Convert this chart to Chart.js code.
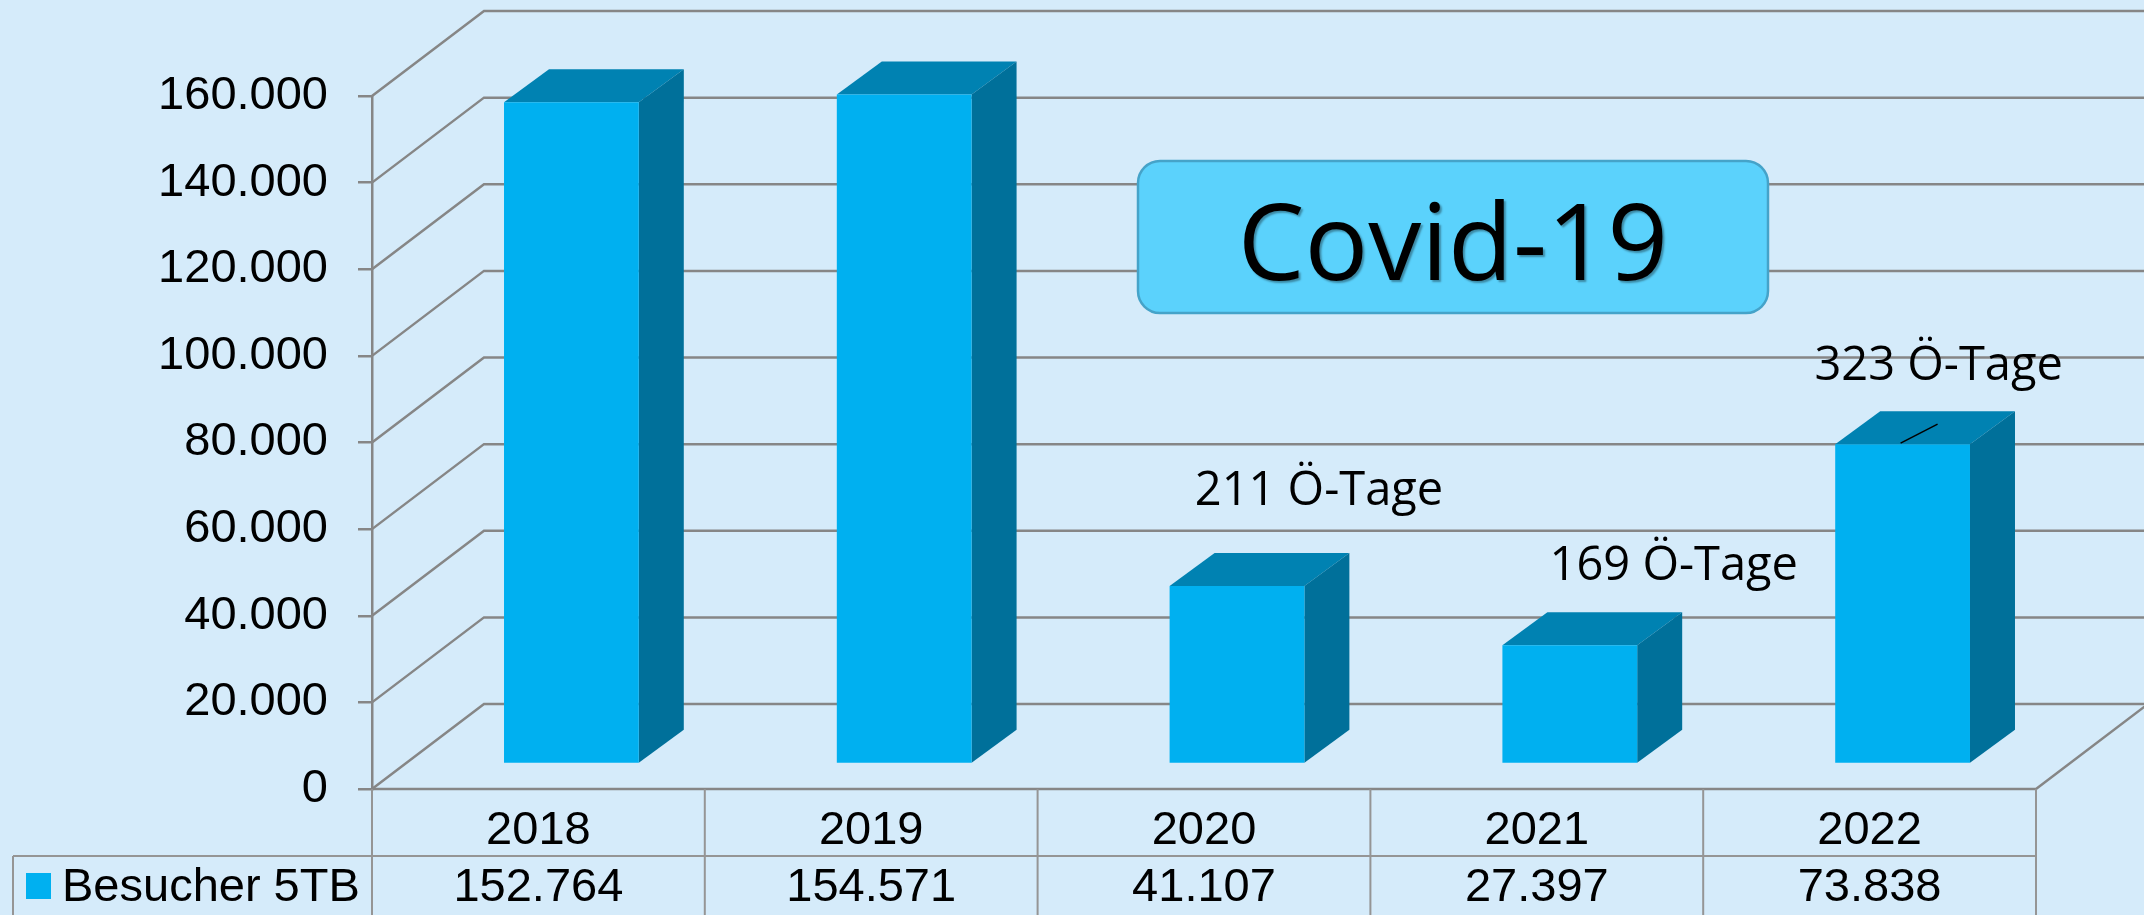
<!DOCTYPE html>
<html>
<head>
<meta charset="utf-8">
<script src="https://cdn.jsdelivr.net/npm/chart.js@4"></script>
<style>
  html, body { margin: 0; padding: 0; background: #d5ebfa; }
  canvas { display: block; }
</style>
</head>
<body>
<canvas id="chart" width="2144" height="915"></canvas>
<script>
// daten
var years = ["2018", "2019", "2020", "2021", "2022"];
var besucher = [152764, 154571, 41107, 27397, 73838];
var serienName = "Besucher 5TB";
var oeTage = ["", "", "211 Ö-Tage", "169 Ö-Tage", "323 Ö-Tage"];
var boxText = "Covid-19";

// farben + 3d-versatz
var bg = "#d5ebfa";
var frontCol = "#00b0f0";
var topCol = "#0082b2";
var sideCol = "#00709a";
var gridCol = "#868686";
var wall = { dx: 112, dy: -85 };   // tiefe der rueckwand
var shift = { dx: 33, dy: -25 };   // position der saeulen in der tiefe
var depth = { dx: 45, dy: -33 };   // tiefe einer saeule

// label-versatz relativ zur saeule (x = mitte, y = oberkante)
var notePos = [null, null, { dx: 115, dy: -106 }, { dx: 137, dy: -90 }, { dx: 69, dy: -89 }];

function fmt(v) {
  return String(v).replace(/\B(?=(\d{3})+(?!\d))/g, ".");
}

var axisFont = { family: "'Liberation Sans', Arial, sans-serif", size: 47 };

var chart3d = {
  id: "chart3d",
  beforeDraw: function (chart) {
    var ctx = chart.ctx, a = chart.chartArea, y = chart.scales.y;
    ctx.save();
    ctx.fillStyle = bg;
    ctx.fillRect(0, 0, chart.width, chart.height);
    ctx.strokeStyle = gridCol;
    ctx.lineWidth = 2.5;
    y.ticks.forEach(function (t) {
      var py = y.getPixelForValue(t.value);
      ctx.beginPath();
      ctx.moveTo(a.left, py);
      ctx.lineTo(a.left + wall.dx, py + wall.dy);
      ctx.lineTo(chart.width, py + wall.dy);
      ctx.stroke();
    });
    // boden vorne + rechts
    ctx.beginPath();
    ctx.moveTo(a.left, a.bottom);
    ctx.lineTo(a.right, a.bottom);
    ctx.lineTo(a.right + wall.dx, a.bottom + wall.dy);
    ctx.stroke();
    ctx.restore();
  },
  beforeDatasetsDraw: function (chart) {
    var ctx = chart.ctx;
    ctx.save();
    ctx.translate(shift.dx, shift.dy);
    chart.getDatasetMeta(0).data.forEach(function (bar) {
      var l = bar.x - bar.width / 2, r = bar.x + bar.width / 2;
      // oben
      ctx.fillStyle = topCol;
      ctx.beginPath();
      ctx.moveTo(l, bar.y);
      ctx.lineTo(l + depth.dx, bar.y + depth.dy);
      ctx.lineTo(r + depth.dx, bar.y + depth.dy);
      ctx.lineTo(r, bar.y);
      ctx.closePath();
      ctx.fill();
      // seite
      ctx.fillStyle = sideCol;
      ctx.beginPath();
      ctx.moveTo(r, bar.y);
      ctx.lineTo(r + depth.dx, bar.y + depth.dy);
      ctx.lineTo(r + depth.dx, bar.base + depth.dy);
      ctx.lineTo(r, bar.base);
      ctx.closePath();
      ctx.fill();
    });
  },
  afterDatasetsDraw: function (chart) {
    chart.ctx.restore();
  },
  afterDraw: function (chart) {
    var ctx = chart.ctx, a = chart.chartArea, x = chart.scales.x;
    var meta = chart.getDatasetMeta(0);
    var colW = (a.right - a.left) / years.length;
    var rowY = 856, tableLeft = 13, H = chart.height;

    // datentabelle
    ctx.save();
    ctx.strokeStyle = "#959595";
    ctx.lineWidth = 2;
    ctx.beginPath();
    for (var i = 0; i <= years.length; i++) {
      var cx = a.left + i * colW;
      ctx.moveTo(cx, a.bottom);
      ctx.lineTo(cx, H);
    }
    ctx.moveTo(tableLeft, rowY);
    ctx.lineTo(a.right, rowY);
    ctx.moveTo(tableLeft, rowY);
    ctx.lineTo(tableLeft, H);
    ctx.stroke();

    ctx.fillStyle = "#000";
    ctx.font = "47px 'Liberation Sans', Arial, sans-serif";
    ctx.textAlign = "center";
    ctx.textBaseline = "middle";
    besucher.forEach(function (v, i) {
      ctx.fillText(fmt(v), x.getPixelForValue(i), 888);
    });
    ctx.fillStyle = frontCol;
    ctx.fillRect(26, 873, 25, 26);
    ctx.fillStyle = "#000";
    ctx.textAlign = "left";
    ctx.fillText(serienName, 62, 888);

    // oe-tage labels
    ctx.font = "47px 'Open Sans', 'Noto Sans', sans-serif";
    ctx.textAlign = "center";
    ctx.textBaseline = "alphabetic";
    oeTage.forEach(function (t, i) {
      if (!t) return;
      var bar = meta.data[i];
      ctx.fillText(t, bar.x + notePos[i].dx, bar.y + notePos[i].dy);
    });
    // fuehrungslinie 2022
    var b5 = meta.data[4];
    ctx.strokeStyle = "#000";
    ctx.lineWidth = 1.5;
    ctx.beginPath();
    ctx.moveTo(b5.x + 31, b5.y - 26);
    ctx.lineTo(b5.x + 68, b5.y - 45);
    ctx.stroke();

    // covid box
    var bx = 1138, by = 161, bw = 630, bh = 152;
    ctx.fillStyle = "#5bd2fc";
    ctx.strokeStyle = "#45a3c9";
    ctx.lineWidth = 2.5;
    ctx.beginPath();
    ctx.roundRect(bx, by, bw, bh, 22);
    ctx.fill();
    ctx.stroke();
    ctx.font = "106px 'Open Sans', 'Noto Sans', sans-serif";
    ctx.shadowColor = "rgba(0,0,0,0.35)";
    ctx.shadowOffsetX = 2;
    ctx.shadowOffsetY = 2;
    ctx.shadowBlur = 2;
    ctx.fillStyle = "#000";
    ctx.fillText(boxText, bx + bw / 2, 280);
    ctx.restore();
  }
};

new Chart(document.getElementById("chart"), {
  type: "bar",
  data: {
    labels: years,
    datasets: [{
      label: serienName,
      data: besucher,
      backgroundColor: frontCol,
      borderWidth: 0,
      categoryPercentage: 1,
      barPercentage: 0.405,
      clip: false
    }]
  },
  options: {
    responsive: false,
    devicePixelRatio: 1,
    animation: false,
    layout: { padding: { top: 96, right: 108, left: 0, bottom: 0 } },
    plugins: {
      legend: { display: false },
      tooltip: { enabled: false }
    },
    scales: {
      x: {
        grid: { display: false, drawTicks: false },
        border: { display: false },
        ticks: { font: axisFont, color: "#000", padding: 14 },
        afterFit: function (s) { s.height = 126; }
      },
      y: {
        min: 0,
        max: 160000,
        ticks: {
          stepSize: 20000,
          font: axisFont,
          color: "#000",
          padding: 30,
          callback: function (v) { return fmt(v); }
        },
        grid: { drawOnChartArea: false, drawTicks: true, tickLength: 14, color: gridCol, lineWidth: 2.5 },
        border: { display: true, color: gridCol, width: 2.5 },
        afterFit: function (s) { s.width = 372; }
      }
    }
  },
  plugins: [chart3d]
});
</script>
</body>
</html>
